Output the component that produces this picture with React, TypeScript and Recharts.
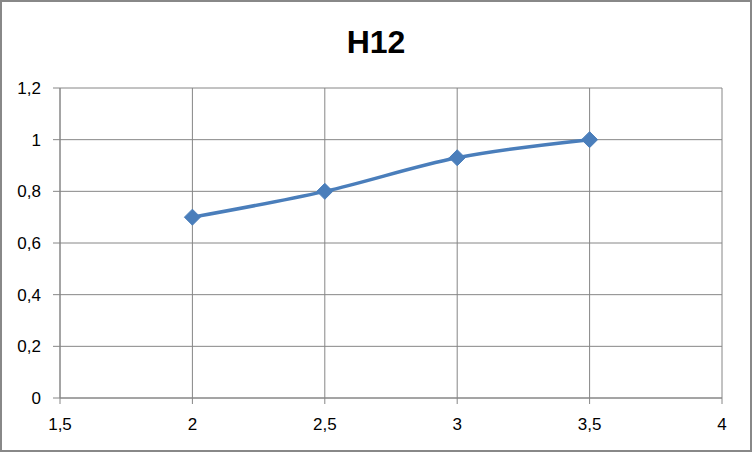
import React from 'react';
import { LineChart, Line, XAxis, YAxis, CartesianGrid } from 'recharts';

const xValues = [2, 2.5, 3, 3.5];
const yValues = [0.7, 0.8, 0.93, 1];
const xTicks = [1.5, 2, 2.5, 3, 3.5, 4];
const yTicks = [0, 0.2, 0.4, 0.6, 0.8, 1, 1.2];

const data = xValues.map((x, i) => ({ x, y: yValues[i] }));

const BLUE = '#4A7EBB';
const GRID = '#868686';
const FONT = '"Liberation Sans", Arial, sans-serif';

// comma decimal, like the original
const fmt = (v: number) => String(v).replace('.', ',');

const Diamond = (props: any) => {
  const { cx, cy } = props;
  if (cx == null || cy == null) return null;
  const r = 8;
  return (
    <polygon
      points={`${cx},${cy - r} ${cx + r},${cy} ${cx},${cy + r} ${cx - r},${cy}`}
      fill={BLUE}
      stroke={BLUE}
      strokeWidth={1}
    />
  );
};

export default function App() {
  return (
    <div style={{ position: 'relative', width: 752, height: 452, background: '#fff', fontFamily: FONT }}>
      <style>{'body{margin:0}'}</style>
      <LineChart
        width={752}
        height={452}
        data={data}
        margin={{ top: 88, right: 30, bottom: 0, left: 0 }}
      >
        <CartesianGrid stroke={GRID} strokeWidth={1} />
        <XAxis
          dataKey="x"
          type="number"
          domain={[1.5, 4]}
          ticks={xTicks}
          tickFormatter={fmt}
          height={54}
          stroke={GRID}
          tickSize={6}
          tickMargin={14}
          tick={{ fill: '#000', fontSize: 17, fontFamily: FONT }}
        />
        <YAxis
          type="number"
          domain={[0, 1.2]}
          ticks={yTicks}
          tickFormatter={fmt}
          width={60}
          stroke={GRID}
          tickSize={7}
          tickMargin={12}
          tick={{ fill: '#000', fontSize: 17, fontFamily: FONT }}
        />
        <Line
          type="monotone"
          dataKey="y"
          stroke={BLUE}
          strokeWidth={3.5}
          dot={<Diamond />}
          activeDot={false}
          isAnimationActive={false}
        />
      </LineChart>
      <div
        style={{
          position: 'absolute',
          left: 0,
          top: 22,
          width: 752,
          textAlign: 'center',
          fontSize: 32,
          fontWeight: 'bold',
          lineHeight: '40px',
          color: '#000',
        }}
      >
        H12
      </div>
      <div
        style={{
          position: 'absolute',
          left: 0,
          top: 0,
          width: 752,
          height: 452,
          boxSizing: 'border-box',
          border: '2px solid #888',
          pointerEvents: 'none',
        }}
      />
    </div>
  );
}
